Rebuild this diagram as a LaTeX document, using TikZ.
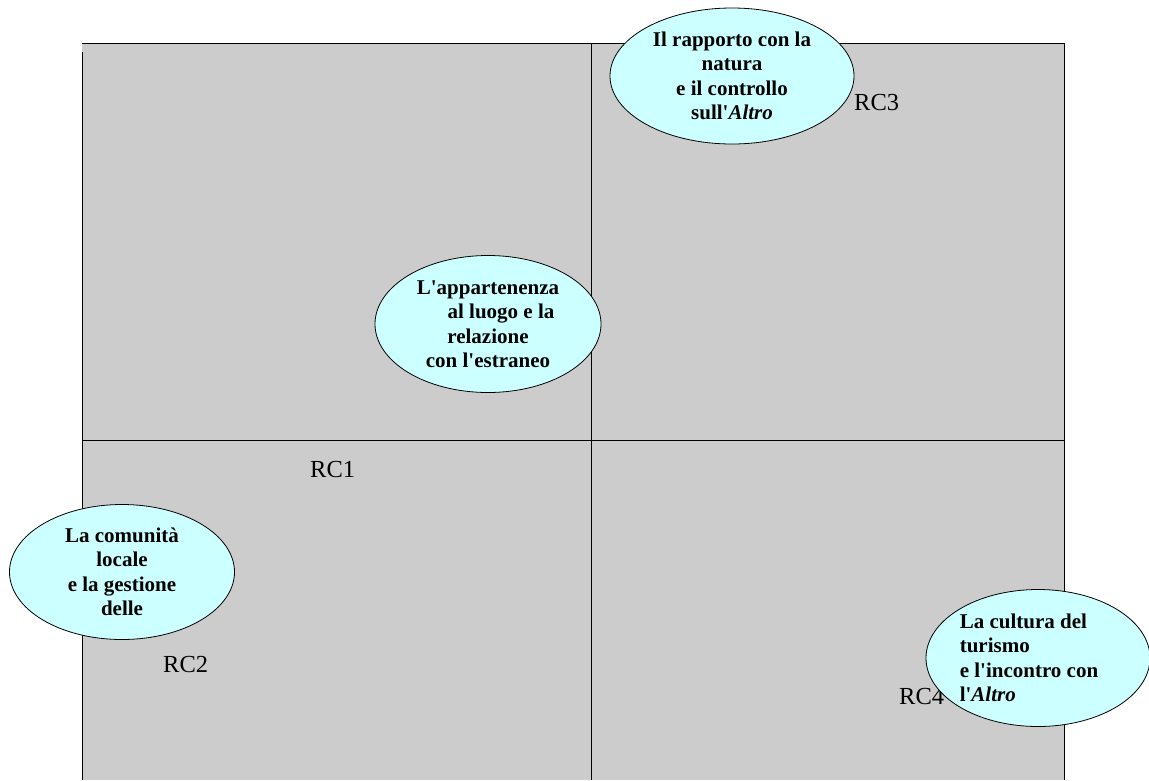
\documentclass[tikz,border=0pt]{standalone}
\usepackage{fontspec}
\setmainfont{Liberation Serif}
\usetikzlibrary{shapes.geometric}
\definecolor{quadgray}{HTML}{CCCCCC}
\definecolor{themecyan}{HTML}{CCFFFF}
\newcommand{\ap}{\textquotesingle}

\begin{document}
\begin{tikzpicture}[x=1pt, y=-1pt,
  theme/.style={ellipse, draw=black, line width=0.8pt, fill=themecyan, inner sep=0pt, align=center, font=\fontsize{21}{24.5}\selectfont\bfseries},
  rclabel/.style={anchor=base west, inner sep=0pt, font=\fontsize{24.5}{28}\selectfont}]

      \useasboundingbox (0,0) rectangle (1149,780);

      % quadrants
      \fill [quadgray] (82,43) rectangle (1064,780);
      \begin{scope}[line width=1pt]
	\draw (82,43) -- (1064,43) -- (1064,780);
	\draw (82,52) -- (82,780);
	\draw (591,43) -- (591,780);
	\draw (82,440) -- (1064,440);
      \end{scope}

      % labels
      \node [rclabel] at (310,477) (rc1) {RC1};
      \node [rclabel] at (163,672) (rc2) {RC2};
      \node [rclabel] at (854,110) (rc3) {RC3};
      \node [rclabel] at (899,704) (rc4) {RC4};

      % themes
      \node [theme, minimum width=244, minimum height=136] at (732,76) (natura) {Il rapporto con la\\natura\\e il controllo\\sull\ap\textit{Altro}};
      \node [theme, minimum width=226, minimum height=137] at (488,324) (luogo) {L\ap appartenenza\\\hspace*{26pt}al luogo e la\\relazione\\con l\ap estraneo};
      \node [theme, minimum width=225, minimum height=135] at (122,572) (comunita) {La comunità\\locale\\e la gestione\\delle};
      \node [theme, minimum width=224, minimum height=137, align=left] at (1038,658) (turismo) {La cultura del\\turismo\\e l\ap incontro con\rule{18pt}{0pt}\\l\ap\textit{Altro}};
    \end{tikzpicture}
\end{document}
